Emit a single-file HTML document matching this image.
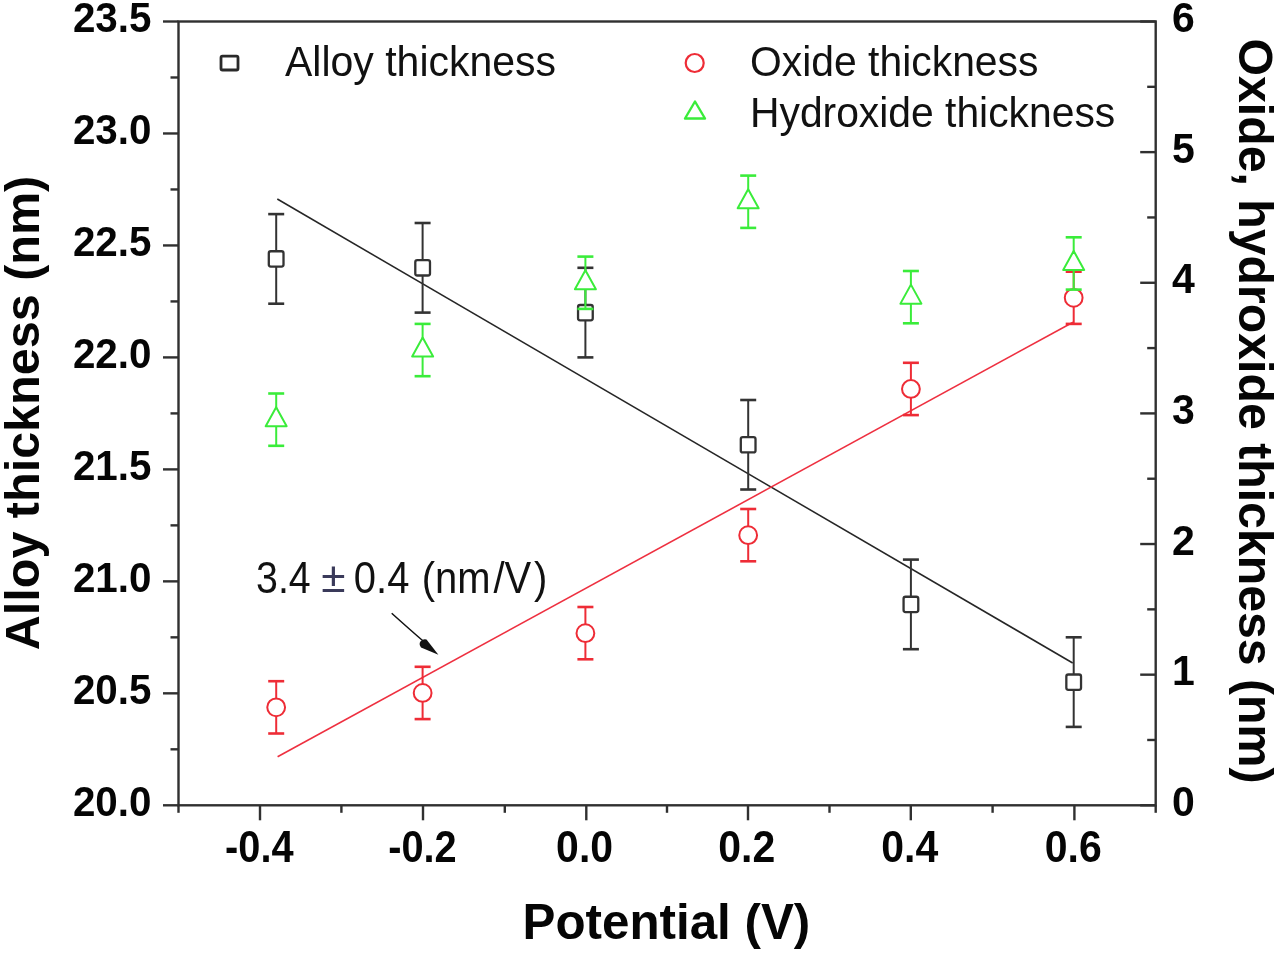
<!DOCTYPE html>
<html><head><meta charset="utf-8"><title>Alloy, oxide and hydroxide thickness vs potential</title>
<style>html,body{margin:0;padding:0;background:#fff;}body{width:1280px;height:955px;overflow:hidden;font-family:"Liberation Sans",sans-serif;}svg{display:block;filter:blur(0.5px);}</style>
</head><body><svg width="1280" height="955" viewBox="0 0 1280 955"><rect x="178.5" y="21.5" width="977.20" height="783.80" fill="none" stroke="#303030" stroke-width="2.4"/><line x1="163.0" y1="805.30" x2="178.5" y2="805.30" stroke="#303030" stroke-width="2.4"/><line x1="170.5" y1="749.31" x2="178.5" y2="749.31" stroke="#303030" stroke-width="2.4"/><line x1="163.0" y1="693.33" x2="178.5" y2="693.33" stroke="#303030" stroke-width="2.4"/><line x1="170.5" y1="637.34" x2="178.5" y2="637.34" stroke="#303030" stroke-width="2.4"/><line x1="163.0" y1="581.36" x2="178.5" y2="581.36" stroke="#303030" stroke-width="2.4"/><line x1="170.5" y1="525.37" x2="178.5" y2="525.37" stroke="#303030" stroke-width="2.4"/><line x1="163.0" y1="469.39" x2="178.5" y2="469.39" stroke="#303030" stroke-width="2.4"/><line x1="170.5" y1="413.40" x2="178.5" y2="413.40" stroke="#303030" stroke-width="2.4"/><line x1="163.0" y1="357.41" x2="178.5" y2="357.41" stroke="#303030" stroke-width="2.4"/><line x1="170.5" y1="301.43" x2="178.5" y2="301.43" stroke="#303030" stroke-width="2.4"/><line x1="163.0" y1="245.44" x2="178.5" y2="245.44" stroke="#303030" stroke-width="2.4"/><line x1="170.5" y1="189.46" x2="178.5" y2="189.46" stroke="#303030" stroke-width="2.4"/><line x1="163.0" y1="133.47" x2="178.5" y2="133.47" stroke="#303030" stroke-width="2.4"/><line x1="170.5" y1="77.49" x2="178.5" y2="77.49" stroke="#303030" stroke-width="2.4"/><line x1="163.0" y1="21.50" x2="178.5" y2="21.50" stroke="#303030" stroke-width="2.4"/><line x1="1140.2" y1="805.30" x2="1155.7" y2="805.30" stroke="#303030" stroke-width="2.4"/><line x1="1147.2" y1="739.98" x2="1155.7" y2="739.98" stroke="#303030" stroke-width="2.4"/><line x1="1140.2" y1="674.67" x2="1155.7" y2="674.67" stroke="#303030" stroke-width="2.4"/><line x1="1147.2" y1="609.35" x2="1155.7" y2="609.35" stroke="#303030" stroke-width="2.4"/><line x1="1140.2" y1="544.03" x2="1155.7" y2="544.03" stroke="#303030" stroke-width="2.4"/><line x1="1147.2" y1="478.72" x2="1155.7" y2="478.72" stroke="#303030" stroke-width="2.4"/><line x1="1140.2" y1="413.40" x2="1155.7" y2="413.40" stroke="#303030" stroke-width="2.4"/><line x1="1147.2" y1="348.08" x2="1155.7" y2="348.08" stroke="#303030" stroke-width="2.4"/><line x1="1140.2" y1="282.77" x2="1155.7" y2="282.77" stroke="#303030" stroke-width="2.4"/><line x1="1147.2" y1="217.45" x2="1155.7" y2="217.45" stroke="#303030" stroke-width="2.4"/><line x1="1140.2" y1="152.13" x2="1155.7" y2="152.13" stroke="#303030" stroke-width="2.4"/><line x1="1147.2" y1="86.82" x2="1155.7" y2="86.82" stroke="#303030" stroke-width="2.4"/><line x1="1140.2" y1="21.50" x2="1155.7" y2="21.50" stroke="#303030" stroke-width="2.4"/><line x1="178.50" y1="805.3" x2="178.50" y2="812.8" stroke="#303030" stroke-width="2.4"/><line x1="260.00" y1="805.3" x2="260.00" y2="820.3" stroke="#303030" stroke-width="2.4"/><line x1="341.40" y1="805.3" x2="341.40" y2="812.8" stroke="#303030" stroke-width="2.4"/><line x1="423.00" y1="805.3" x2="423.00" y2="820.3" stroke="#303030" stroke-width="2.4"/><line x1="504.80" y1="805.3" x2="504.80" y2="812.8" stroke="#303030" stroke-width="2.4"/><line x1="586.30" y1="805.3" x2="586.30" y2="820.3" stroke="#303030" stroke-width="2.4"/><line x1="667.00" y1="805.3" x2="667.00" y2="812.8" stroke="#303030" stroke-width="2.4"/><line x1="748.00" y1="805.3" x2="748.00" y2="820.3" stroke="#303030" stroke-width="2.4"/><line x1="829.50" y1="805.3" x2="829.50" y2="812.8" stroke="#303030" stroke-width="2.4"/><line x1="910.80" y1="805.3" x2="910.80" y2="820.3" stroke="#303030" stroke-width="2.4"/><line x1="992.60" y1="805.3" x2="992.60" y2="812.8" stroke="#303030" stroke-width="2.4"/><line x1="1074.40" y1="805.3" x2="1074.40" y2="820.3" stroke="#303030" stroke-width="2.4"/><line x1="1155.70" y1="805.3" x2="1155.70" y2="812.8" stroke="#303030" stroke-width="2.4"/><g font-family="Liberation Sans" font-weight="bold" font-size="41" fill="#050505"><text transform="translate(151.5,816.00) scale(0.985,1.055)" text-anchor="end">20.0</text><text transform="translate(151.5,704.03) scale(0.985,1.055)" text-anchor="end">20.5</text><text transform="translate(151.5,592.06) scale(0.985,1.055)" text-anchor="end">21.0</text><text transform="translate(151.5,480.09) scale(0.985,1.055)" text-anchor="end">21.5</text><text transform="translate(151.5,368.11) scale(0.985,1.055)" text-anchor="end">22.0</text><text transform="translate(151.5,256.14) scale(0.985,1.055)" text-anchor="end">22.5</text><text transform="translate(151.5,144.17) scale(0.985,1.055)" text-anchor="end">23.0</text><text transform="translate(151.5,32.20) scale(0.985,1.055)" text-anchor="end">23.5</text><text transform="translate(1172,815.80) scale(1.0,1.055)">0</text><text transform="translate(1172,685.17) scale(1.0,1.055)">1</text><text transform="translate(1172,554.53) scale(1.0,1.055)">2</text><text transform="translate(1172,423.90) scale(1.0,1.055)">3</text><text transform="translate(1172,293.27) scale(1.0,1.055)">4</text><text transform="translate(1172,162.63) scale(1.0,1.055)">5</text><text transform="translate(1172,32.00) scale(1.0,1.055)">6</text><text transform="translate(259.30,861.5) scale(0.97,1.075)" text-anchor="middle">-0.4</text><text transform="translate(422.40,861.5) scale(0.97,1.075)" text-anchor="middle">-0.2</text><text transform="translate(584.60,861.5) scale(1.0,1.075)" text-anchor="middle">0.0</text><text transform="translate(746.80,861.5) scale(1.0,1.075)" text-anchor="middle">0.2</text><text transform="translate(909.80,861.5) scale(1.0,1.075)" text-anchor="middle">0.4</text><text transform="translate(1073.30,861.5) scale(1.0,1.075)" text-anchor="middle">0.6</text></g><text transform="translate(666.4,939.2) scale(1.028,1.04)" text-anchor="middle" font-family="Liberation Sans" font-weight="bold" font-size="48" fill="#050505">Potential (V)</text><text transform="translate(39,413) rotate(-90) scale(1.011,1)" text-anchor="middle" font-family="Liberation Sans" font-weight="bold" font-size="48" fill="#050505">Alloy thickness (nm)</text><text transform="translate(1239,411) rotate(90) scale(1.005,1)" text-anchor="middle" font-family="Liberation Sans" font-weight="bold" font-size="48" fill="#050505">Oxide, hydroxide thickness (nm)</text><g font-family="Liberation Sans" font-size="41" fill="#111"><text transform="translate(285,75.8) scale(1,1.03)">Alloy thickness</text><text transform="translate(750,75.8) scale(0.997,1.03)">Oxide thickness</text><text transform="translate(750,126.8) scale(0.996,1.03)">Hydroxide thickness</text></g><rect x="221" y="56.2" width="17" height="13.8" rx="1.5" fill="none" stroke="#2a2a2a" stroke-width="2.8"/><circle cx="694.7" cy="63" r="9" fill="none" stroke="#ee2c36" stroke-width="2.2"/><path d="M695,101.5 L705,118.5 L685,118.5 Z" fill="none" stroke="#3aec3a" stroke-width="2.4" stroke-linejoin="round"/><line x1="277.3" y1="199" x2="1072.7" y2="663" stroke="#262626" stroke-width="1.55"/><line x1="277.6" y1="756.7" x2="1073" y2="322.2" stroke="#ee3040" stroke-width="1.6"/><line x1="276.2" y1="214.1" x2="276.2" y2="303.7" stroke="#333" stroke-width="2.0"/><line x1="268.2" y1="214.1" x2="284.2" y2="214.1" stroke="#333" stroke-width="2.6"/><line x1="268.2" y1="303.7" x2="284.2" y2="303.7" stroke="#333" stroke-width="2.6"/><rect x="268.81" y="251.23" width="14.7" height="15.3" rx="2" fill="#fff" stroke="#333" stroke-width="2.3"/><line x1="422.6" y1="223.0" x2="422.6" y2="312.6" stroke="#333" stroke-width="2.0"/><line x1="414.6" y1="223.0" x2="430.6" y2="223.0" stroke="#333" stroke-width="2.6"/><line x1="414.6" y1="312.6" x2="430.6" y2="312.6" stroke="#333" stroke-width="2.6"/><rect x="415.29" y="260.19" width="14.7" height="15.3" rx="2" fill="#fff" stroke="#333" stroke-width="2.3"/><line x1="585.4" y1="267.8" x2="585.4" y2="357.4" stroke="#333" stroke-width="2.0"/><line x1="577.4" y1="267.8" x2="593.4" y2="267.8" stroke="#333" stroke-width="2.6"/><line x1="577.4" y1="357.4" x2="593.4" y2="357.4" stroke="#333" stroke-width="2.6"/><rect x="578.05" y="304.98" width="14.7" height="15.3" rx="2" fill="#fff" stroke="#333" stroke-width="2.3"/><line x1="748.2" y1="400.0" x2="748.2" y2="489.5" stroke="#333" stroke-width="2.0"/><line x1="740.2" y1="400.0" x2="756.2" y2="400.0" stroke="#333" stroke-width="2.6"/><line x1="740.2" y1="489.5" x2="756.2" y2="489.5" stroke="#333" stroke-width="2.6"/><rect x="740.81" y="437.10" width="14.7" height="15.3" rx="2" fill="#fff" stroke="#333" stroke-width="2.3"/><line x1="910.9" y1="559.6" x2="910.9" y2="649.2" stroke="#333" stroke-width="2.0"/><line x1="902.9" y1="559.6" x2="918.9" y2="559.6" stroke="#333" stroke-width="2.6"/><line x1="902.9" y1="649.2" x2="918.9" y2="649.2" stroke="#333" stroke-width="2.6"/><rect x="903.57" y="596.77" width="14.7" height="15.3" rx="2" fill="#fff" stroke="#333" stroke-width="2.3"/><line x1="1073.7" y1="637.3" x2="1073.7" y2="726.9" stroke="#333" stroke-width="2.0"/><line x1="1065.7" y1="637.3" x2="1081.7" y2="637.3" stroke="#333" stroke-width="2.6"/><line x1="1065.7" y1="726.9" x2="1081.7" y2="726.9" stroke="#333" stroke-width="2.6"/><rect x="1066.33" y="674.48" width="14.7" height="15.3" rx="2" fill="#fff" stroke="#333" stroke-width="2.3"/><line x1="276.2" y1="681.2" x2="276.2" y2="733.5" stroke="#ee2c36" stroke-width="2.0"/><line x1="268.2" y1="681.2" x2="284.2" y2="681.2" stroke="#ee2c36" stroke-width="2.6"/><line x1="268.2" y1="733.5" x2="284.2" y2="733.5" stroke="#ee2c36" stroke-width="2.6"/><circle cx="276.16" cy="707.32" r="8.9" fill="#fff" stroke="#ee2c36" stroke-width="2.0"/><line x1="422.6" y1="666.8" x2="422.6" y2="719.1" stroke="#ee2c36" stroke-width="2.0"/><line x1="414.6" y1="666.8" x2="430.6" y2="666.8" stroke="#ee2c36" stroke-width="2.6"/><line x1="414.6" y1="719.1" x2="430.6" y2="719.1" stroke="#ee2c36" stroke-width="2.6"/><circle cx="422.64" cy="692.96" r="8.9" fill="#fff" stroke="#ee2c36" stroke-width="2.0"/><line x1="585.4" y1="607.0" x2="585.4" y2="659.3" stroke="#ee2c36" stroke-width="2.0"/><line x1="577.4" y1="607.0" x2="593.4" y2="607.0" stroke="#ee2c36" stroke-width="2.6"/><line x1="577.4" y1="659.3" x2="593.4" y2="659.3" stroke="#ee2c36" stroke-width="2.6"/><circle cx="585.40" cy="633.13" r="8.9" fill="#fff" stroke="#ee2c36" stroke-width="2.0"/><line x1="748.2" y1="509.0" x2="748.2" y2="561.3" stroke="#ee2c36" stroke-width="2.0"/><line x1="740.2" y1="509.0" x2="756.2" y2="509.0" stroke="#ee2c36" stroke-width="2.6"/><line x1="740.2" y1="561.3" x2="756.2" y2="561.3" stroke="#ee2c36" stroke-width="2.6"/><circle cx="748.16" cy="535.15" r="8.9" fill="#fff" stroke="#ee2c36" stroke-width="2.0"/><line x1="910.9" y1="362.8" x2="910.9" y2="415.1" stroke="#ee2c36" stroke-width="2.0"/><line x1="902.9" y1="362.8" x2="918.9" y2="362.8" stroke="#ee2c36" stroke-width="2.6"/><line x1="902.9" y1="415.1" x2="918.9" y2="415.1" stroke="#ee2c36" stroke-width="2.6"/><circle cx="910.92" cy="388.97" r="8.9" fill="#fff" stroke="#ee2c36" stroke-width="2.0"/><line x1="1073.7" y1="271.7" x2="1073.7" y2="323.9" stroke="#ee2c36" stroke-width="2.0"/><line x1="1065.7" y1="271.7" x2="1081.7" y2="271.7" stroke="#ee2c36" stroke-width="2.6"/><line x1="1065.7" y1="323.9" x2="1081.7" y2="323.9" stroke="#ee2c36" stroke-width="2.6"/><circle cx="1073.68" cy="297.79" r="8.9" fill="#fff" stroke="#ee2c36" stroke-width="2.0"/><line x1="276.2" y1="393.5" x2="276.2" y2="445.8" stroke="#3aec3a" stroke-width="2.0"/><line x1="268.2" y1="393.5" x2="284.2" y2="393.5" stroke="#3aec3a" stroke-width="2.6"/><line x1="268.2" y1="445.8" x2="284.2" y2="445.8" stroke="#3aec3a" stroke-width="2.6"/><path d="M276.16,407.17 L286.66,426.17 L265.66,426.17 Z" fill="#fff" stroke="#3aec3a" stroke-width="2.0" stroke-linejoin="round"/><line x1="422.6" y1="323.9" x2="422.6" y2="376.2" stroke="#3aec3a" stroke-width="2.0"/><line x1="414.6" y1="323.9" x2="430.6" y2="323.9" stroke="#3aec3a" stroke-width="2.6"/><line x1="414.6" y1="376.2" x2="430.6" y2="376.2" stroke="#3aec3a" stroke-width="2.6"/><path d="M422.64,337.54 L433.14,356.54 L412.14,356.54 Z" fill="#fff" stroke="#3aec3a" stroke-width="2.0" stroke-linejoin="round"/><line x1="585.4" y1="256.6" x2="585.4" y2="308.9" stroke="#3aec3a" stroke-width="2.0"/><line x1="577.4" y1="256.6" x2="593.4" y2="256.6" stroke="#3aec3a" stroke-width="2.6"/><line x1="577.4" y1="308.9" x2="593.4" y2="308.9" stroke="#3aec3a" stroke-width="2.6"/><path d="M585.40,270.27 L595.90,289.27 L574.90,289.27 Z" fill="#fff" stroke="#3aec3a" stroke-width="2.0" stroke-linejoin="round"/><line x1="748.2" y1="175.6" x2="748.2" y2="227.9" stroke="#3aec3a" stroke-width="2.0"/><line x1="740.2" y1="175.6" x2="756.2" y2="175.6" stroke="#3aec3a" stroke-width="2.6"/><line x1="740.2" y1="227.9" x2="756.2" y2="227.9" stroke="#3aec3a" stroke-width="2.6"/><path d="M748.16,189.27 L758.66,208.27 L737.66,208.27 Z" fill="#fff" stroke="#3aec3a" stroke-width="2.0" stroke-linejoin="round"/><line x1="910.9" y1="271.0" x2="910.9" y2="323.3" stroke="#3aec3a" stroke-width="2.0"/><line x1="902.9" y1="271.0" x2="918.9" y2="271.0" stroke="#3aec3a" stroke-width="2.6"/><line x1="902.9" y1="323.3" x2="918.9" y2="323.3" stroke="#3aec3a" stroke-width="2.6"/><path d="M910.92,284.64 L921.42,303.64 L900.42,303.64 Z" fill="#fff" stroke="#3aec3a" stroke-width="2.0" stroke-linejoin="round"/><line x1="1073.7" y1="237.3" x2="1073.7" y2="289.6" stroke="#3aec3a" stroke-width="2.0"/><line x1="1065.7" y1="237.3" x2="1081.7" y2="237.3" stroke="#3aec3a" stroke-width="2.6"/><line x1="1065.7" y1="289.6" x2="1081.7" y2="289.6" stroke="#3aec3a" stroke-width="2.6"/><path d="M1073.68,250.93 L1084.18,269.93 L1063.18,269.93 Z" fill="#fff" stroke="#3aec3a" stroke-width="2.0" stroke-linejoin="round"/><g font-family="Liberation Sans" font-size="41" fill="#111"><text transform="translate(256,592.5) scale(0.96,1.06)">3.4</text><text transform="translate(321.3,592.3) scale(1.3,1.24)" font-size="34" fill="#3a3a5a">±</text><text transform="translate(353.8,592.5) scale(0.975,1.06)">0.4 <tspan dx="1.2">(nm</tspan><tspan dx="3">/V</tspan><tspan dx="3">)</tspan></text></g><path d="M391.7,613.2 Q407,627 426,643.5" fill="none" stroke="#111" stroke-width="1.5"/><path d="M438.4,654.8 L421,647.5 Q418.5,644 420.5,641.5 Q423,638.5 426.5,639.5 Z" fill="#111"/></svg></body></html>
